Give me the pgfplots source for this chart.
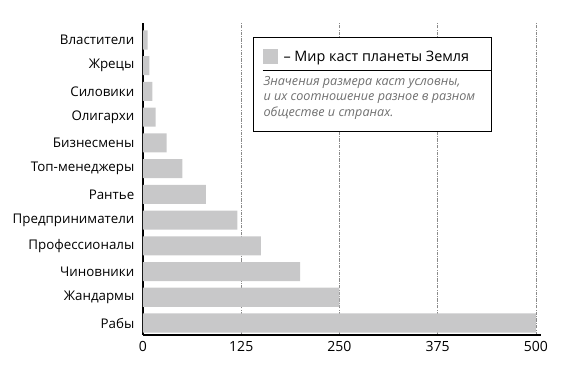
\documentclass[border=0pt]{standalone}
\usepackage{pgfplots}
\pgfplotsset{compat=1.18}
\usepackage{fontspec}
\setmainfont{Open Sans}
\definecolor{barc}{HTML}{C8C8C9}
\definecolor{gridc}{HTML}{8A8A8A}
\definecolor{notec}{HTML}{707070}
\begin{document}
\begin{tikzpicture}
\begin{axis}[
  scale only axis,
  width=298.5pt, height=234pt,
  xmin=0, xmax=506.4,
  ymin=-0.467, ymax=11.66,
  axis x line*=bottom, axis y line*=left,
  axis line style={line width=1.8pt, -},
  xtick={0,125,250,375,500},
  ytick={0,...,11},
  yticklabels={Рабы,Жандармы,Чиновники,Профессионалы,Предприниматели,Рантье,Топ-менеджеры,Бизнесмены,Олигархи,Силовики,Жрецы,Властители},
  major tick length=0pt,
  tick label style={font=\fontsize{10}{12}\selectfont},
  /pgf/number format/assume math mode=true,
  xticklabel style={yshift=-1pt, font=\fontsize{10.5}{12}\selectfont},
  yticklabel style={xshift=-3pt},
  xmajorgrids=true,
  major grid style={gridc, line width=0.5pt, dash pattern=on 2.5pt off 1pt on 0.5pt off 1pt},
  clip=false,
]
\addplot[xbar, bar width=0.74, fill=barc, draw=none] coordinates {
  (500,0) (250,1) (200,2) (150,3) (120,4) (80,5) (50,6) (30,7) (16,8) (12,9) (8,10) (6,11)
};
\node[draw=black, line width=0.8pt, fill=white, anchor=north west, inner sep=0pt]
  at (axis cs:140,11.115) {%
  \begin{minipage}[t][70.5pt][t]{178.5pt}%
  \offinterlineskip
  \vskip 18pt
  \hbox{\hspace*{6.75pt}\smash{{\color{barc}\rule[-1.5pt]{11.25pt}{11.25pt}}\hspace{4.5pt}\fontsize{10.8}{12}\selectfont – Мир каст планеты Земля}}
  \vskip 6pt
  \hbox{\hspace*{6.75pt}\rule{171.75pt}{0.7pt}}
  \vskip 11pt
  \hbox{\hspace*{7.5pt}\smash{\fontsize{9.45}{11}\selectfont\itshape\color{notec}Значения размера каст условны,}}
  \vskip 11.6pt
  \hbox{\hspace*{7.5pt}\smash{\fontsize{9.45}{11}\selectfont\itshape\color{notec}и их соотношение разное в разном}}
  \vskip 11.6pt
  \hbox{\hspace*{7.5pt}\smash{\fontsize{9.45}{11}\selectfont\itshape\color{notec}обществе и странах.}}
  \vfill
  \end{minipage}};
\end{axis}
\pgfresetboundingbox
\path[use as bounding box] (current axis.south west) ++(-107.25pt,-27.75pt) rectangle ++(436.5pt,279pt);
\end{tikzpicture}
\end{document}
